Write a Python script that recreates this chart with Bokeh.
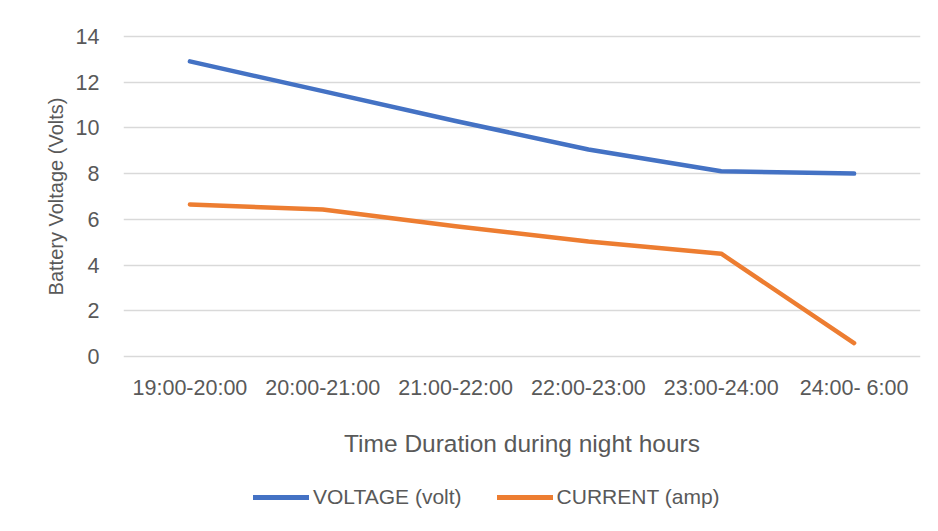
from bokeh.plotting import figure
from bokeh.layouts import column
from bokeh.models import Range1d, FactorRange, Legend, LegendItem, FixedTicker
from bokeh.embed import file_html
from bokeh.resources import INLINE

categories = ["19:00-20:00", "20:00-21:00", "21:00-22:00", "22:00-23:00", "23:00-24:00", "24:00- 6:00"]
voltage = [12.9, 11.6, 10.3, 9.05, 8.1, 8.0]
current = [6.65, 6.43, 5.7, 5.03, 4.5, 0.6]
y_ticks = [0, 2, 4, 6, 8, 10, 12, 14]
series_names = ["VOLTAGE (volt)", "CURRENT (amp)"]
series_colors = ["#4472C4", "#ED7D31"]

FONT = "Liberation Sans"
TXT = "#595959"

p = figure(width=930, height=470, output_backend="svg", toolbar_location=None,
           x_range=FactorRange(factors=categories), y_range=Range1d(-0.25, 14.25),
           min_border_left=123, min_border_right=10, min_border_top=30, min_border_bottom=108)
p.outline_line_color = None
p.background_fill_color = "white"
p.border_fill_color = "white"

p.line(categories, voltage, line_color=series_colors[0], line_width=4.5, line_cap="round", line_join="round")
p.line(categories, current, line_color=series_colors[1], line_width=4.5, line_cap="round", line_join="round")

p.xgrid.grid_line_color = None
p.ygrid.grid_line_color = "#d9d9d9"
p.ygrid.grid_line_width = 1.3
p.yaxis.ticker = FixedTicker(ticks=y_ticks)

for ax in (p.xaxis[0], p.yaxis[0]):
    ax.axis_line_color = None
    ax.major_tick_line_color = None
    ax.minor_tick_line_color = None
    ax.major_label_text_font = FONT
    ax.major_label_text_color = TXT
    ax.major_label_text_font_size = "21.5px"
    ax.axis_label_text_font = FONT
    ax.axis_label_text_color = TXT
    ax.axis_label_text_font_style = "normal"

p.yaxis.major_label_standoff = 18
p.yaxis.axis_label = "Battery Voltage (Volts)"
p.yaxis.axis_label_text_font_size = "20px"
p.yaxis.axis_label_standoff = 6

p.xaxis.major_label_standoff = 7
p.xaxis.axis_label = "Time Duration during night hours"
p.xaxis.axis_label_text_font_size = "24.5px"
p.xaxis.axis_label_standoff = 27

# legend strip below the chart (its frame is aligned with the chart's frame)
p2 = figure(width=930, height=53, output_backend="svg", toolbar_location=None,
            x_range=Range1d(0, 797), y_range=Range1d(0, 53),
            x_axis_type=None, y_axis_type=None,
            min_border_left=123, min_border_right=10, min_border_top=0, min_border_bottom=0)
p2.outline_line_color = None
p2.grid.grid_line_color = None
p2.background_fill_color = "white"
p2.border_fill_color = "white"
nan = float("nan")
items = []
for name, col in zip(series_names, series_colors):
    r = p2.line(x=[nan, nan], y=[nan, nan], line_color=col, line_width=5, line_cap="round")
    items.append(LegendItem(label=name, renderers=[r]))
legend = Legend(items=items, orientation="horizontal", location=(130, 14),
                padding=0, margin=0, spacing=35, glyph_width=56, label_standoff=4,
                label_text_font=FONT, label_text_color=TXT, label_text_font_size="21px",
                border_line_color=None, background_fill_alpha=0)
p2.add_layout(legend, "center")

layout = column(p, p2, spacing=0)
open("out.html", "w").write(file_html(layout, INLINE))
